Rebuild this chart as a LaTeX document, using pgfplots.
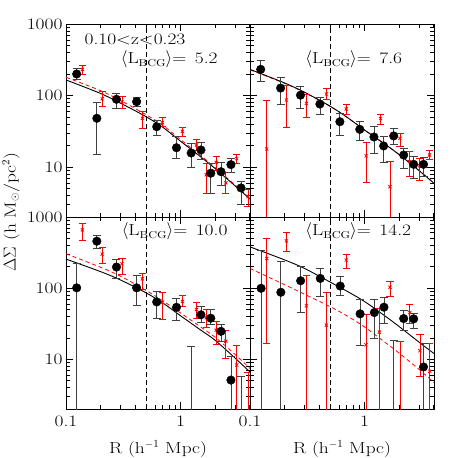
\documentclass[border=0pt]{standalone}
\usepackage{fontspec}
\setmainfont{Latin Modern Roman}[FakeStretch=1.22]
\usepackage{pgfplots}
\pgfplotsset{compat=1.18}
\definecolor{ebgray}{HTML}{404040}
\pgfplotsset{every axis/.append style={
    scale only axis, width=184bp, anchor=south west,
    xmode=log, ymode=log, xmin=0.1, xmax=4.05, ymin=2, ymax=1000,
    xtick={0.1,1}, ytick={10,100,1000},
    minor xtick={0.2,0.3,0.4,0.5,0.6,0.7,0.8,0.9,2,3,4},
    minor ytick={2,3,4,5,6,7,8,9,20,30,40,50,60,70,80,90,200,300,400,500,600,700,800,900},
    tick align=inside, xtick pos=both, ytick pos=both,
    major tick length=7bp, minor tick length=4bp,
    tick style={black, line width=0.6bp},
    axis line style={line width=0.8bp},
    xticklabel style={yshift=-3bp},
    xlabel style={yshift=-7bp},
  }}
\pgfplotsset{
  blk/.style={only marks, mark=*, mark size=4.3bp, mark options={fill=black, draw=black},
    error bars/.cd, y dir=both, y explicit,
    error bar style={ebgray, line width=0.8bp},
    error mark options={ebgray, rotate=90, mark size=4bp, line width=0.8bp}},
  rd/.style={only marks, mark=x, mark size=2.2bp, red, mark options={line width=0.8bp},
    error bars/.cd, y dir=both, y explicit,
    error bar style={red, line width=0.8bp},
    error mark options={red, rotate=90, mark size=3.6bp, line width=0.8bp}},
}
\tikzset{
  fitb/.style={black, line width=0.9bp, smooth},
  fitr/.style={red, line width=0.8bp, dash pattern=on 4bp off 3bp, smooth},
  vline/.style={black, line width=0.6bp, dash pattern=on 5bp off 3bp},
}
\newcommand{\lbcg}[1]{$\langle$L\raisebox{-3bp}{\fontsize{10}{10}\selectfont BCG}$\rangle$= \,#1}
\begin{document}
\begin{tikzpicture}[font=\fontsize{16}{19}\selectfont]
\path[use as bounding box] (0,0) rectangle (458bp,458bp);

% ---------------- top left
\begin{axis}[at={(66bp,241bp)}, height=193bp, xticklabels={}, yticklabels={10,100,1000}]
\addplot[fitr, no marks] coordinates {(0.1,180) (0.2,117) (0.3,85) (0.5,54) (0.7,38.5) (1,24.2) (1.5,14.5) (2,9.9) (3,5.6) (4.06,3.65)};
\addplot[fitb, no marks] coordinates {(0.1,165) (0.2,107) (0.3,78) (0.5,50.6) (0.7,36) (1,23) (1.5,13.9) (2,9.55) (3,5.45) (4.06,3.55)};
\addplot[vline, no marks] coordinates {(0.5,2) (0.5,1000)};
\addplot[rd] table[x=x, y=y, y error plus expr=\thisrow{hi}-\thisrow{y}, y error minus expr=\thisrow{y}-\thisrow{lo}] {
x y lo hi
0.139 232 200 267
0.207 90 70 113
0.308 82 66 96
0.465 48 35 59
0.695 41.7 36.6 49
1.04 31.5 27 35.5
1.38 20.3 17.3 24.4
1.68 7.8 4.3 11.3
2.05 11.6 9.1 13.9
2.49 6.0 4.3 8.3
3.1 13.1 11.3 15.2
3.89 3.85 2.8 4.8
};
\addplot[blk] table[x=x, y=y, y error plus expr=\thisrow{hi}-\thisrow{y}, y error minus expr=\thisrow{y}-\thisrow{lo}] {
x y lo hi
0.124 200 168 240
0.186 48 15.2 79
0.276 88.5 67 107
0.414 82 71 94
0.62 36.6 27.4 45
0.923 18.6 13.1 26.5
1.24 15.7 9.8 21.4
1.51 17.3 12.9 22.4
1.84 8.2 4.3 11.3
2.26 8.6 5.6 11.6
2.76 10.8 8.5 13.4
3.38 5.1 3.0 6.2
};
\node[anchor=west, inner sep=0] at (rel axis cs:0.10,0.922) {0.10<z<0.23};
\node[anchor=west, inner sep=0] at (rel axis cs:0.297,0.819) {\lbcg{5.2}};
\end{axis}

% ---------------- top right
\begin{axis}[at={(250bp,241bp)}, height=193bp, xticklabels={}, yticklabels={}]
\addplot[fitr, no marks] coordinates {(0.1,228) (0.2,148) (0.3,110) (0.5,70.5) (0.7,49.8) (1,33) (1.5,21) (2,15) (3,8.9) (4.06,5.9)};
\addplot[fitb, no marks] coordinates {(0.1,232) (0.2,150) (0.3,111) (0.5,71) (0.7,50) (1,33) (1.5,21) (2,15) (3,8.9) (4.06,5.9)};
\addplot[vline, no marks] coordinates {(0.5,2) (0.5,1000)};
\addplot[rd] table[x=x, y=y, y error plus expr=\thisrow{hi}-\thisrow{y}, y error minus expr=\thisrow{y}-\thisrow{lo}] {
x y lo hi
0.14 17.9 0.5 84.5
0.208 86.5 35.5 140
0.311 77.8 49.5 102
0.465 105 88.5 126
0.693 64.7 55 76
1.035 14.3 6.0 21.9
1.38 47.5 39.9 54.6
1.67 5.3 0.5 11.9
2.04 25.2 19.2 29.6
2.48 11.9 7.3 16.4
3.03 10.4 6.6 13.2
3.7 14.7 12.8 17.3
};
\addplot[blk] table[x=x, y=y, y error plus expr=\thisrow{hi}-\thisrow{y}, y error minus expr=\thisrow{y}-\thisrow{lo}] {
x y lo hi
0.124 232 156 307
0.185 127 74 180
0.276 101 66 133
0.408 76 55 94
0.61 43 28 57
0.91 33.6 23.9 43
1.21 26.3 15.6 36.6
1.47 19.7 11.5 27.2
1.80 27.2 21 34.8
2.20 14.7 9.6 18.3
2.69 10.9 6.9 14.3
3.28 10.9 7.3 13.7
};
\node[anchor=west, inner sep=0] at (rel axis cs:0.30,0.819) {\lbcg{7.6}};
\end{axis}

% ---------------- bottom left
\begin{axis}[at={(66bp,49bp)}, height=192bp, xticklabels={0.1,1}, yticklabels={10,100,1000},
  xlabel={R (h$^{-1}$ Mpc)}]
\addplot[fitr, no marks] coordinates {(0.1,304) (0.2,197) (0.3,147) (0.5,93) (0.7,66.4) (1,44.8) (1.5,28.5) (2,20.5) (3,11.7) (4.06,7.4)};
\addplot[fitb, no marks] coordinates {(0.1,256) (0.2,171) (0.3,130) (0.5,86) (0.7,62) (1,41) (1.5,25.8) (2,18.6) (3,10.4) (4.06,6.6)};
\addplot[vline, no marks] coordinates {(0.5,2) (0.5,1000)};
\addplot[rd] table[x=x, y=y, y error plus expr=\thisrow{hi}-\thisrow{y}, y error minus expr=\thisrow{y}-\thisrow{lo}] {
x y lo hi
0.139 658 467 816
0.207 301 225 377
0.308 220 155 264
0.465 135 95 163
0.695 63 36 86
1.04 65 54.6 78.5
1.38 50 38 63
1.68 38.3 27.7 50
2.05 25.7 16 34.4
2.49 18 10.4 25.7
3.1 8.3 0.5 15.7
3.89 1 0.5 6.5
};
\addplot[blk] table[x=x, y=y, y error plus expr=\thisrow{hi}-\thisrow{y}, y error minus expr=\thisrow{y}-\thisrow{lo}] {
x y lo hi
0.124 101 0.5 225
0.186 457 365 560
0.276 198 135 256
0.414 101 57 150
0.62 64 38 90
0.923 53.8 35.5 70.6
1.24 1 0.5 15.4
1.51 42.2 32.6 55.6
1.84 37.8 30.9 51
2.26 24.7 18 30.9
2.76 5.1 0.5 11.1
3.38 1 0.5 5.8
};
\node[anchor=west, inner sep=0] at (rel axis cs:0.302,0.927) {\lbcg{10.0}};
\end{axis}

% ---------------- bottom right
\begin{axis}[at={(250bp,49bp)}, height=192bp, xticklabels={0.1,1}, yticklabels={},
  xlabel={R (h$^{-1}$ Mpc)}]
\addplot[fitr, no marks] coordinates {(0.1,189) (0.2,112) (0.3,82) (0.5,55) (0.7,41) (1,28.5) (1.5,17.5) (2,12.3) (3,7.2) (4.06,4.7)};
\addplot[fitb, no marks] coordinates {(0.1,380) (0.2,250) (0.3,189) (0.5,122) (0.7,91) (1,65) (1.5,41) (2,29) (3,17.4) (4.06,12)};
\addplot[vline, no marks] coordinates {(0.5,2) (0.5,1000)};
\addplot[rd] table[x=x, y=y, y error plus expr=\thisrow{hi}-\thisrow{y}, y error minus expr=\thisrow{y}-\thisrow{lo}] {
x y lo hi
0.14 261 16.9 498
0.208 461 324 604
0.311 56.4 0.5 153
0.465 30.2 0.5 87.5
0.693 248 189 300
1.03 16 0.5 42.2
1.35 24.1 0.5 52.3
1.67 103 77.6 126
2.04 1 0.5 17.9
2.49 45.4 31.5 58.2
3.05 13.2 5.8 22.1
3.72 6.8 0.5 16.9
};
\addplot[blk] table[x=x, y=y, y error plus expr=\thisrow{hi}-\thisrow{y}, y error minus expr=\thisrow{y}-\thisrow{lo}] {
x y lo hi
0.125 99.5 0.5 342
0.186 87.5 0.5 235
0.277 127 45.4 204
0.411 137 76 189
0.614 107 80 145
0.916 43.5 15.5 69.8
1.22 45.4 19.9 69.8
1.48 54 31.5 74.5
1.8 1 0.5 18.2
2.2 37.4 25.5 48.4
2.69 37 27.4 44.5
3.28 7.8 0.5 16.9
};
\node[anchor=west, inner sep=0] at (rel axis cs:0.30,0.927) {\lbcg{14.2}};
\end{axis}

\node[rotate=90] at (11bp,246bp) {$\Delta\Sigma$ (h M$_\odot$/pc$^2$)};
\end{tikzpicture}
\end{document}
